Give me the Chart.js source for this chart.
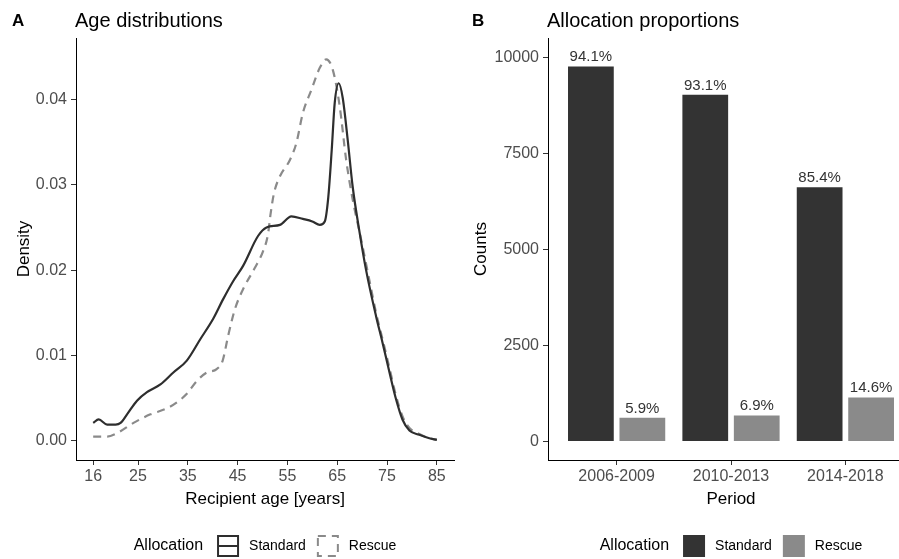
<!DOCTYPE html>
<html>
<head>
<meta charset="utf-8">
<title>Age distributions and allocation proportions</title>
<script src="https://cdn.jsdelivr.net/npm/chart.js@4.4.1/dist/chart.umd.min.js"></script>
<style>
  html, body { margin: 0; padding: 0; background: #fff; overflow: hidden; width: 899px; height: 559px; }
  #panelA { position: absolute; left: 0; top: 0; }
  #panelB { position: absolute; left: 460px; top: 0; }
</style>
</head>
<body>
<canvas id="panelA" width="460" height="559"></canvas>
<canvas id="panelB" width="454" height="559"></canvas>
<script>
// Panel A: age density curves
const standardAge = [16, 17.1, 18.8, 20.5, 21.5, 22.8, 24.8, 26.8, 29.5, 32.1, 34.8, 37.5, 40.1, 42.1, 44.1, 46.1, 49.1, 50.8, 53.5, 55.8, 58.1, 60, 61.5, 62.5, 63.2, 63.9, 64.5, 65.3, 66.1, 67.1, 68.1, 69.5, 70.8, 72.8, 74.1, 75.5, 76.8, 78.1, 79.5, 81.5, 83.5, 85];
const standardDensity = [0.0021, 0.0025, 0.0019, 0.0019, 0.0021, 0.0031, 0.0047, 0.0057, 0.0066, 0.0080, 0.0094, 0.0119, 0.0143, 0.0166, 0.0187, 0.0205, 0.0240, 0.0250, 0.0253, 0.0263, 0.0260, 0.0257, 0.0253, 0.0257, 0.0285, 0.0341, 0.0396, 0.0419, 0.0402, 0.0353, 0.0298, 0.0244, 0.0200, 0.0146, 0.0115, 0.0080, 0.0049, 0.0025, 0.0012, 0.0007, 0.0003, 0.0001];
const rescueAge = [16, 18.8, 20.8, 24.1, 27.5, 30.8, 32.8, 34.8, 36.8, 38.8, 40.8, 42, 43.1, 44.5, 46.3, 48.5, 50.1, 51.1, 51.6, 52.3, 53.5, 55.5, 56.8, 58.1, 59.8, 61.5, 62.8, 64.1, 65.5, 66.8, 68.1, 69.8, 71.5, 72.8, 74.1, 75.5, 76.8, 78.1, 79.5, 81.5, 83.5, 85];
const rescueDensity = [0.0005, 0.0005, 0.0009, 0.0021, 0.0031, 0.0038, 0.0045, 0.0055, 0.0070, 0.0080, 0.0084, 0.0094, 0.0123, 0.0155, 0.0180, 0.0203, 0.0222, 0.0242, 0.0265, 0.0290, 0.0310, 0.0329, 0.0349, 0.0384, 0.0411, 0.0437, 0.0447, 0.0435, 0.0392, 0.0329, 0.0283, 0.0236, 0.0187, 0.0150, 0.0119, 0.0085, 0.0053, 0.0029, 0.0015, 0.0008, 0.0003, 0.0001];
const ageTicks = [16, 25, 35, 45, 55, 65, 75, 85];
const densityTicks = [0, 0.01, 0.02, 0.03, 0.04];

// Panel B: counts per period
const periods = ['2006-2009', '2010-2013', '2014-2018'];
const standardCounts = [9770, 9030, 6620];
const rescueCounts = [620, 680, 1150];
const standardShare = ['94.1%', '93.1%', '85.4%'];
const rescueShare = ['5.9%', '6.9%', '14.6%'];
const countTicks = [0, 2500, 5000, 7500, 10000];

const FONT = '"Liberation Sans", Arial, sans-serif';
Chart.defaults.font.family = FONT;
Chart.defaults.color = '#000';

// titles, panel letters and the ggplot-style legend row
function panelDecor(letter, title, keyType) {
  return {
    id: 'panelDecor',
    afterDraw(chart) {
      const ctx = chart.ctx;
      const area = chart.chartArea;
      ctx.save();
      ctx.fillStyle = '#000';
      ctx.textAlign = 'left';
      ctx.textBaseline = 'alphabetic';
      ctx.font = 'bold 17px ' + FONT;
      ctx.fillText(letter, 12, 26);
      ctx.font = '20px ' + FONT;
      ctx.fillText(title, area.left - 1, 27);

      // legend
      const ds = chart.data.datasets;
      const titleFont = '16px ' + FONT;
      const labelFont = '14px ' + FONT;
      ctx.font = titleFont;
      const wTitle = ctx.measureText('Allocation').width;
      ctx.font = labelFont;
      const w1 = ctx.measureText(ds[0].label).width;
      const w2 = ctx.measureText(ds[1].label).width;
      const box = 22;
      const total = wTitle + 14 + box + 10 + w1 + 11 + box + 10 + w2;
      let x = (area.left + area.right) / 2 - total / 2;
      const cy = 546;
      ctx.textBaseline = 'middle';
      ctx.font = titleFont;
      ctx.fillText('Allocation', x, cy);
      x += wTitle + 14;
      [0, 1].forEach(i => {
        if (keyType === 'line') {
          ctx.strokeStyle = ds[i].borderColor;
          ctx.lineWidth = 2;
          ctx.setLineDash(ds[i].borderDash || []);
          ctx.strokeRect(x + 1, cy - box / 2 + 1, box - 2, box - 2);
          if (!ds[i].borderDash) {
            ctx.beginPath();
            ctx.moveTo(x + 1, cy);
            ctx.lineTo(x + box - 1, cy);
            ctx.stroke();
          }
          ctx.setLineDash([]);
        } else {
          ctx.fillStyle = ds[i].backgroundColor;
          ctx.fillRect(x, cy - box / 2, box, box);
        }
        x += box + 10;
        ctx.fillStyle = '#000';
        ctx.font = labelFont;
        ctx.fillText(ds[i].label, x, cy);
        x += (i === 0 ? w1 : w2) + 11;
      });
      ctx.restore();
    }
  };
}

const barLabels = {
  id: 'barLabels',
  afterDatasetsDraw(chart) {
    const ctx = chart.ctx;
    ctx.save();
    ctx.font = '15px ' + FONT;
    ctx.fillStyle = '#333';
    ctx.textAlign = 'center';
    ctx.textBaseline = 'alphabetic';
    chart.data.datasets.forEach((ds, di) => {
      const texts = di === 0 ? standardShare : rescueShare;
      chart.getDatasetMeta(di).data.forEach((bar, i) => {
        ctx.fillText(texts[i], bar.x, bar.y - 5);
      });
    });
    ctx.restore();
  }
};

const tickFont = { size: 16 };
const axisGrid = { drawOnChartArea: false, tickLength: 5, color: '#333', lineWidth: 1 };
const axisBorder = { color: '#000', width: 1 };

// Panel A
new Chart(document.getElementById('panelA'), {
  type: 'line',
  data: {
    datasets: [
      {
        label: 'Standard',
        data: standardAge.map((a, i) => ({ x: a, y: standardDensity[i] })),
        borderColor: '#2e2e2e',
        borderWidth: 2.2
      },
      {
        label: 'Rescue',
        data: rescueAge.map((a, i) => ({ x: a, y: rescueDensity[i] })),
        borderColor: '#8a8a8a',
        borderWidth: 2.2,
        borderDash: [8, 6]
      }
    ]
  },
  options: {
    responsive: false,
    animation: false,
    elements: { point: { radius: 0 }, line: { cubicInterpolationMode: 'monotone', fill: false } },
    layout: { padding: { left: 0, top: 38, right: 6, bottom: 49 } },
    plugins: { legend: { display: false }, tooltip: { enabled: false } },
    scales: {
      x: {
        type: 'linear',
        min: 12.55,
        max: 88.45,
        afterBuildTicks: s => { s.ticks = ageTicks.map(v => ({ value: v })); },
        afterFit: s => { s.height = 50; },
        ticks: { font: tickFont, color: '#4d4d4d', padding: 2, autoSkip: false, maxRotation: 0, callback: v => String(v) },
        grid: axisGrid,
        border: axisBorder,
        title: { display: true, text: 'Recipient age [years]', font: { size: 17 }, color: '#000', padding: { top: 0, bottom: 0 } }
      },
      y: {
        min: -0.00225,
        max: 0.0472,
        afterBuildTicks: s => { s.ticks = densityTicks.map(v => ({ value: v })); },
        afterFit: s => { s.width = 76; },
        ticks: { font: tickFont, color: '#4d4d4d', padding: 4, callback: v => v.toFixed(2) },
        grid: axisGrid,
        border: axisBorder,
        title: { display: true, text: 'Density', font: { size: 17 }, color: '#000', padding: { top: 14, bottom: 0 } }
      }
    }
  },
  plugins: [panelDecor('A', 'Age distributions', 'line')]
});

// Panel B
new Chart(document.getElementById('panelB'), {
  type: 'bar',
  data: {
    datasets: [
      {
        label: 'Standard',
        data: standardCounts.map((c, i) => ({ x: i, y: c })),
        backgroundColor: '#333333'
      },
      {
        label: 'Rescue',
        data: rescueCounts.map((c, i) => ({ x: i, y: c })),
        backgroundColor: '#8a8a8a'
      }
    ]
  },
  options: {
    responsive: false,
    animation: false,
    datasets: { bar: { categoryPercentage: 0.9, barPercentage: 0.889 } },
    layout: { padding: { left: 0, top: 38, right: 0, bottom: 49 } },
    plugins: { legend: { display: false }, tooltip: { enabled: false } },
    scales: {
      x: {
        type: 'linear',
        min: -0.6,
        max: 2.6,
        offset: false,
        afterBuildTicks: s => { s.ticks = periods.map((p, i) => ({ value: i })); },
        afterFit: s => { s.height = 50; },
        ticks: { font: tickFont, color: '#4d4d4d', padding: 2, autoSkip: false, maxRotation: 0, callback: v => periods[v] },
        grid: Object.assign({ offset: false }, axisGrid),
        border: axisBorder,
        title: { display: true, text: 'Period', font: { size: 17 }, color: '#000', padding: { top: 0, bottom: 0 } }
      },
      y: {
        min: -480,
        max: 10510,
        afterBuildTicks: s => { s.ticks = countTicks.map(v => ({ value: v })); },
        afterFit: s => { s.width = 88; },
        ticks: { font: tickFont, color: '#4d4d4d', padding: 4, callback: v => String(v) },
        grid: axisGrid,
        border: axisBorder,
        title: { display: true, text: 'Counts', font: { size: 17 }, color: '#000', padding: { top: 11, bottom: 0 } }
      }
    }
  },
  plugins: [barLabels, panelDecor('B', 'Allocation proportions', 'fill')]
});
</script>
</body>
</html>
